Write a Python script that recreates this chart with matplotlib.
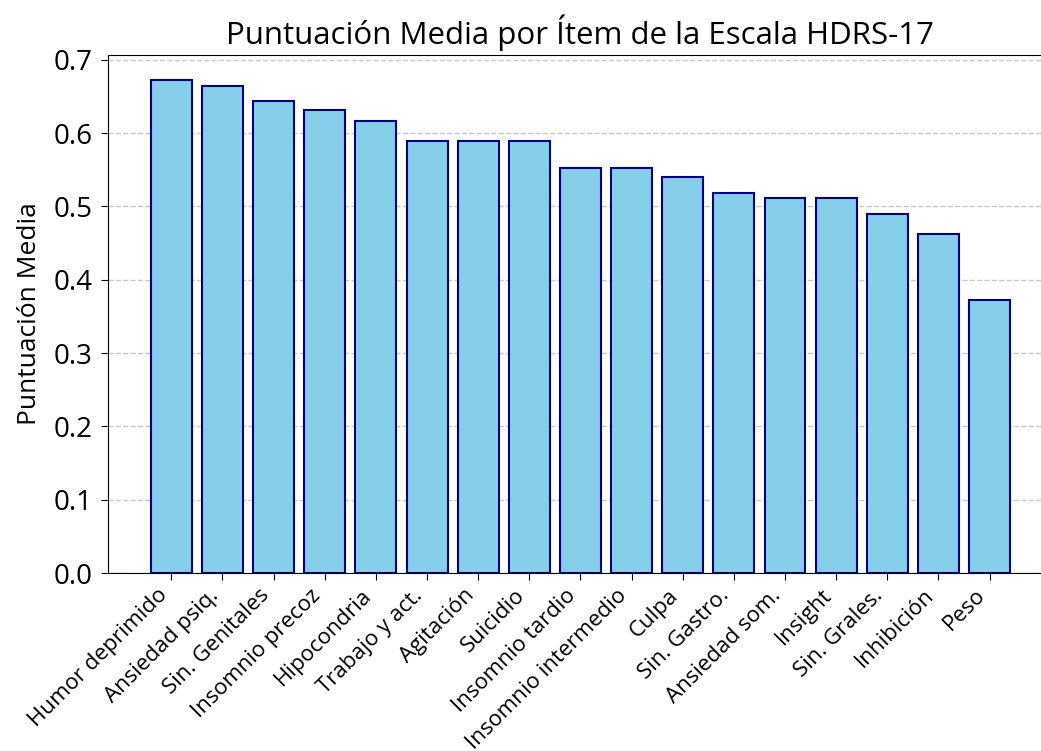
import matplotlib
matplotlib.use("Agg")
import matplotlib.pyplot as plt

# ítems HDRS-17 ordenados por puntuación media
items = ["Humor deprimido", "Ansiedad psiq.", "Sin. Genitales", "Insomnio precoz",
         "Hipocondria", "Trabajo y act.", "Agitación", "Suicidio", "Insomnio tardio",
         "Insomnio intermedio", "Culpa", "Sin. Gastro.", "Ansiedad som.", "Insight",
         "Sin. Grales.", "Inhibición", "Peso"]
medias = [0.673, 0.665, 0.644, 0.631, 0.616, 0.589, 0.589, 0.589, 0.553,
          0.553, 0.540, 0.519, 0.511, 0.511, 0.490, 0.462, 0.372]

plt.rcParams['font.family'] = ['Open Sans', 'DejaVu Sans']

fig = plt.figure(figsize=(10.41, 7.51), dpi=100)
ax = fig.add_axes([0.1037, 0.237, 0.9078, 0.6898])

ax.bar(range(len(items)), medias, color='skyblue', edgecolor='navy', linewidth=1.5)
ax.yaxis.grid(True, linestyle='--', color='#c8c8c8', linewidth=1)
ax.set_axisbelow(True)

ax.set_xticks(range(len(items)))
ax.set_xticklabels(items, rotation=45, ha='right', fontsize=16)
ax.tick_params(axis='y', labelsize=20, pad=6)
ax.tick_params(length=5)
ax.set_ylabel('Puntuación Media', fontsize=19, labelpad=8)
ax.set_title('Puntuación Media por Ítem de la Escala HDRS-17', fontsize=22.5, pad=8)

fig.savefig('out.png', dpi=100)
